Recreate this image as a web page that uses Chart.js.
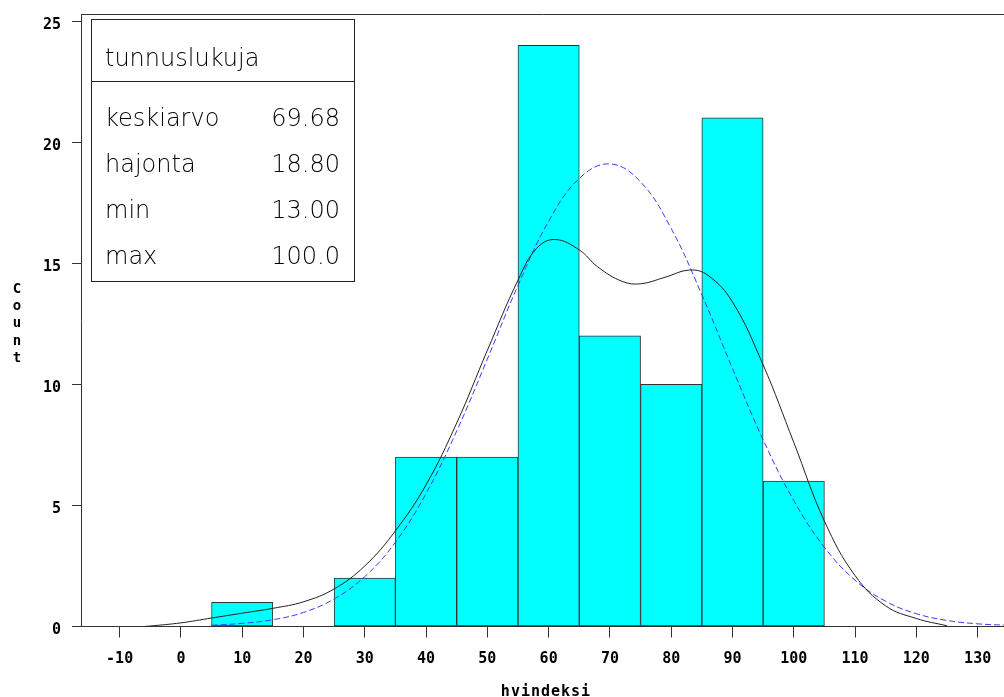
<!DOCTYPE html>
<html>
<head>
<meta charset="utf-8">
<script src="https://cdn.jsdelivr.net/npm/chart.js@4/dist/chart.umd.min.js"></script>
<style>
  html, body { margin: 0; padding: 0; background: #ffffff; }
  #wrap { width: 1004px; height: 697px; position: relative; }
</style>
</head>
<body>
<div id="wrap"><canvas id="c" width="1004" height="697"></canvas></div>
<script>
// ---- data ----
const binCenters = [10, 20, 30, 40, 50, 60, 70, 80, 90, 100];
const binCounts  = [1, 0, 2, 7, 7, 24, 12, 10, 21, 6];

const kdeX = [-6, -5, 0, 5, 10, 15, 20, 25, 30, 35, 40, 45, 50, 55, 58, 61, 65, 68, 72, 75, 79, 83, 86, 90, 95, 100, 105, 110, 115, 120, 125];
const kdeY = [0, 0.02, 0.15, 0.35, 0.55, 0.75, 1.02, 1.55, 2.5, 3.95, 5.85, 8.4, 11.4, 14.3, 15.6, 15.98, 15.55, 14.85, 14.25, 14.15, 14.42, 14.72, 14.5, 13.4, 10.8, 7.6, 4.35, 2.1, 0.85, 0.33, 0.03];

const normX = [5, 10, 15, 20, 25, 30, 35, 40, 45, 50, 55, 60, 65, 70, 75, 80, 85, 90, 95, 100, 105, 110, 115, 120, 125, 130, 135];
const normY = [0.05, 0.13, 0.28, 0.58, 1.14, 2.06, 3.48, 5.49, 8.07, 11.04, 14.08, 16.73, 18.5, 19.1, 18.36, 16.43, 13.7, 10.65, 7.71, 5.2, 3.27, 1.91, 1.04, 0.53, 0.25, 0.11, 0.05];

const xTicks = [-10, 0, 10, 20, 30, 40, 50, 60, 70, 80, 90, 100, 110, 120, 130];
const yTicks = [0, 5, 10, 15, 20, 25];

const statsTitle = 'tunnuslukuja';
const statLabels = ['keskiarvo', 'hajonta', 'min', 'max'];
const statValues = ['69.68', '18.80', '13.00', '100.0'];

const xTitle = 'hvindeksi';
const yTitle = 'Count';

// ---- chart ----
const tickFont = { family: '"DejaVu Sans Mono", monospace', weight: 'bold', size: 15 };
const axisColor = '#333333';

const decor = {
  id: 'decor',
  afterDraw(chart) {
    const ctx = chart.ctx;
    const a = chart.chartArea;
    ctx.save();
    // top frame line
    ctx.strokeStyle = axisColor;
    ctx.lineWidth = 1;
    ctx.beginPath();
    ctx.moveTo(a.left, Math.round(a.top) + 0.5);
    ctx.lineTo(a.right, Math.round(a.top) + 0.5);
    ctx.stroke();

    // x title
    ctx.fillStyle = '#000000';
    ctx.font = 'bold 15px "DejaVu Sans Mono", monospace';
    try { ctx.letterSpacing = '1px'; } catch (e) {}
    ctx.textAlign = 'center';
    ctx.textBaseline = 'alphabetic';
    ctx.fillText(xTitle, 546, 696);

    // y title stacked letters
    ctx.font = 'bold 14px "DejaVu Sans Mono", monospace';
    try { ctx.letterSpacing = '0px'; } catch (e) {}
    ctx.textBaseline = 'middle';
    const chars = yTitle.split('');
    chars.forEach((ch, i) => {
      ctx.fillText(ch, 17, 289 + i * 17.3);
    });

    // stats box
    const bx = 91.5, by = 19.5, bw = 263, bh = 262;
    ctx.strokeStyle = '#222222';
    ctx.strokeRect(bx, by, bw, bh);
    ctx.beginPath();
    ctx.moveTo(bx, 81.5);
    ctx.lineTo(bx + bw, 81.5);
    ctx.stroke();
    ctx.fillStyle = '#000000';
    ctx.font = '200 24px "DejaVu Sans", sans-serif';
    ctx.textBaseline = 'middle';
    ctx.textAlign = 'left';
    ctx.fillText(statsTitle, 105, 60);
    statLabels.forEach((lab, i) => {
      const yy = 120 + i * 46;
      ctx.textAlign = 'left';
      ctx.fillText(lab, 105, yy);
      ctx.textAlign = 'right';
      ctx.fillText(statValues[i], 340, yy);
    });
    ctx.restore();
  }
};

new Chart(document.getElementById('c'), {
  type: 'bar',
  data: {
    datasets: [
      {
        type: 'line',
        data: kdeX.map((x, i) => ({ x: x, y: kdeY[i] })),
        borderColor: '#222222',
        borderWidth: 1,
        pointRadius: 0,
        tension: 0.4,
        fill: false,
        order: 0
      },
      {
        type: 'line',
        data: normX.map((x, i) => ({ x: x, y: normY[i] })),
        borderColor: '#3a3aff',
        borderWidth: 1,
        borderDash: [6, 3],
        pointRadius: 0,
        tension: 0.4,
        fill: false,
        order: 1
      },
      {
        type: 'bar',
        data: binCenters.map((x, i) => ({ x: x, y: binCounts[i] })),
        backgroundColor: '#00ffff',
        borderColor: '#333333',
        borderWidth: 1,
        borderSkipped: false,
        barPercentage: 1,
        categoryPercentage: 1,
        order: 2
      }
    ]
  },
  options: {
    responsive: false,
    devicePixelRatio: 1,
    animation: false,
    layout: { padding: { top: 14, left: 0, right: 0, bottom: 0 } },
    plugins: { legend: { display: false }, tooltip: { enabled: false }, title: { display: false } },
    scales: {
      x: {
        type: 'linear',
        min: -16.3,
        max: 134.3,
        offset: false,
        afterBuildTicks: (s) => { s.ticks = xTicks.map(v => ({ value: v })); },
        afterFit: (s) => { s.height = 70.5; s.paddingLeft = 0; s.paddingRight = 0; },
        grid: { display: true, drawOnChartArea: false, drawTicks: true, tickLength: 11, color: axisColor, offset: false },
        border: { display: true, color: axisColor, width: 1 },
        ticks: { font: tickFont, color: '#000000', padding: 13, maxRotation: 0, autoSkip: false }
      },
      y: {
        type: 'linear',
        min: 0,
        max: 25.29,
        afterBuildTicks: (s) => { s.ticks = yTicks.map(v => ({ value: v })); },
        afterFit: (s) => { s.width = 81; s.paddingTop = 0; s.paddingBottom = 0; },
        grid: { display: true, drawOnChartArea: false, drawTicks: true, tickLength: 9, color: axisColor },
        border: { display: true, color: axisColor, width: 1 },
        ticks: { font: tickFont, color: '#000000', padding: 11, labelOffset: 4 }
      }
    }
  },
  plugins: [decor]
});
</script>
</body>
</html>
